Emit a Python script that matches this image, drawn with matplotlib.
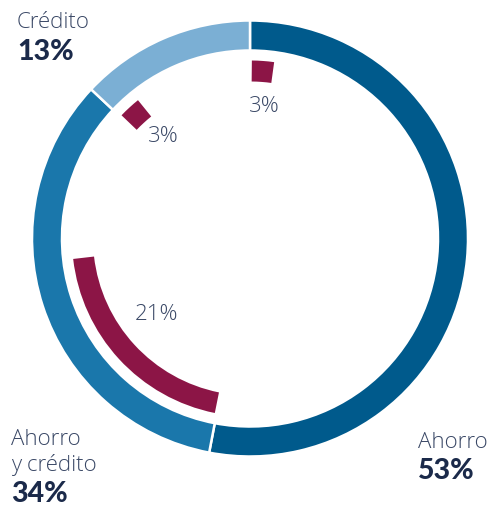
import matplotlib
matplotlib.use("Agg")
import matplotlib.pyplot as plt
from matplotlib.patches import Wedge
from matplotlib import font_manager

# Data
categories = ["Ahorro", "Ahorro\ny crédito", "Crédito"]
shares = [53, 34, 13]
inner_shares = [3, 21, 3]
share_labels = ["53%", "34%", "13%"]
inner_labels = ["3%", "21%", "3%"]

outer_colors = ["#005a8c", "#1a77ab", "#7bafd4"]
inner_color = "#8c1546"
text_light = "#3a4866"
text_bold = "#1b2a4a"

W, H = 491, 508
fig = plt.figure(figsize=(W / 100, H / 100), dpi=100)
ax = fig.add_axes([0, 0, 1, 1])

cx, cy = 250, H - 238.5
R_out, w_out = 218, 30
R_in, w_in = 178, 21

ax.pie(shares, colors=outer_colors, startangle=90, counterclock=False,
       center=(cx, cy), radius=R_out, frame=True,
       wedgeprops=dict(width=w_out, edgecolor="white", linewidth=1.8))

# inner arcs
start = 0.0
for s, v in zip(shares, inner_shares):
    a1 = start + 0.6
    a2 = start + v * 3.6 - 3.0
    ax.add_patch(Wedge((cx, cy), R_in, 90 - a2, 90 - a1, width=w_in,
                       facecolor=inner_color, edgecolor="none"))
    start += s * 3.6

ax.set_xlim(0, W)
ax.set_ylim(0, H)
ax.set_aspect("equal")
ax.axis("off")

# pick a light label font if one is installed
lab_fam, lw = ["Lato", "DejaVu Sans"], "normal"
for f in font_manager.fontManager.ttflist:
    if f.name in ("Open Sans", "Roboto") and f.weight == 300 and f.style == "normal":
        lab_fam, lw = [f.name, "DejaVu Sans"], 300
        break

fam_b = ["Lato", "DejaVu Sans"]
lab_fs = 16
pct_fs = 20.5

def Y(p):
    return H - p

# Crédito (top-left)
ax.text(17, Y(28), categories[2], fontsize=lab_fs, family=lab_fam, weight=lw,
        color=text_light, ha="left", va="baseline")
ax.text(17, Y(60), share_labels[2], fontsize=pct_fs, family=fam_b, weight="black",
        color=text_bold, ha="left", va="baseline")

# Ahorro y crédito (bottom-left)
ax.text(11, Y(445), categories[1].split("\n")[0], fontsize=lab_fs, family=lab_fam,
        weight=lw, color=text_light, ha="left", va="baseline")
ax.text(11, Y(471), categories[1].split("\n")[1], fontsize=lab_fs, family=lab_fam,
        weight=lw, color=text_light, ha="left", va="baseline")
ax.text(11, Y(502), share_labels[1], fontsize=pct_fs, family=fam_b, weight="black",
        color=text_bold, ha="left", va="baseline")

# Ahorro (bottom-right)
ax.text(418, Y(448), categories[0], fontsize=lab_fs, family=lab_fam, weight=lw,
        color=text_light, ha="left", va="baseline")
ax.text(418, Y(479), share_labels[0], fontsize=pct_fs, family=fam_b, weight="black",
        color=text_bold, ha="left", va="baseline")

# inner labels
ax.text(264, Y(106), inner_labels[0], fontsize=lab_fs, family=lab_fam, weight=lw,
        color=text_light, ha="center", va="center")
ax.text(157, Y(314), inner_labels[1], fontsize=lab_fs, family=lab_fam, weight=lw,
        color=text_light, ha="center", va="center")
ax.text(163, Y(136), inner_labels[2], fontsize=lab_fs, family=lab_fam, weight=lw,
        color=text_light, ha="center", va="center")

fig.savefig("out.png", dpi=100)
